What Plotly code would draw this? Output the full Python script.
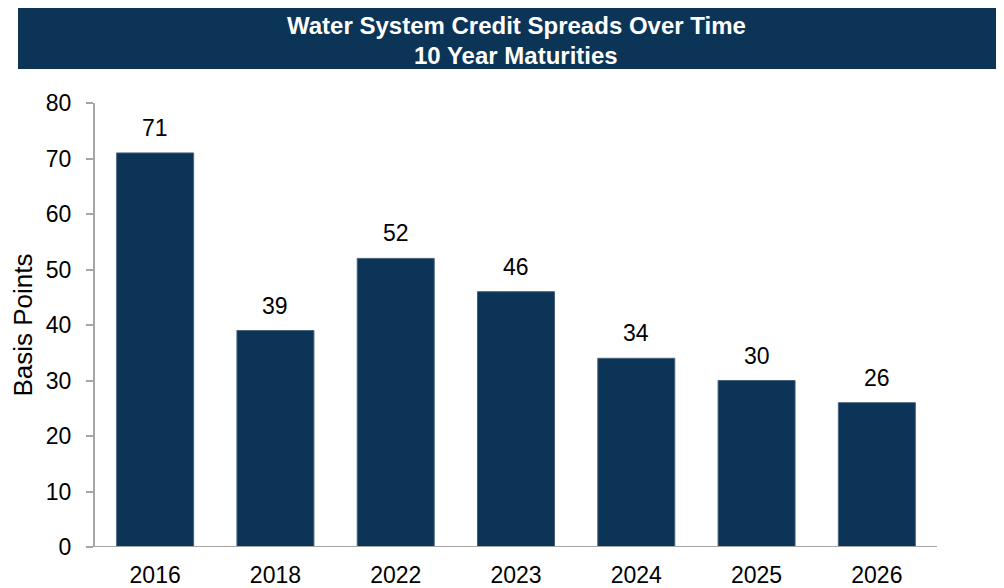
import plotly.graph_objects as go

years = ["2016", "2018", "2022", "2023", "2024", "2025", "2026"]
spreads = [71, 39, 52, 46, 34, 30, 26]
title_line1 = "Water System Credit Spreads Over Time"
title_line2 = "10 Year Maturities"
y_title = "Basis Points"

NAVY = "#0C3457"
GRAY = "#A6A6A6"
FONT = "Liberation Sans, Arial, sans-serif"

fig = go.Figure()
fig.add_trace(go.Bar(
    x=years, y=spreads, width=0.64,
    marker=dict(color=NAVY, line=dict(color="#46617c", width=1)),
    hoverinfo="x+y",
))

# value labels above bars (x given as category index on the category axis)
for i, v in enumerate(spreads):
    fig.add_annotation(x=i, y=v, text=str(v), showarrow=False, yanchor="bottom",
                       yshift=10, font=dict(family=FONT, size=23, color="#000"))

# the page body has an 8px default margin, so the figure is placed at (8, 8)
OFF = 8
W, H = 1004 - OFF, 588 - OFF
L = 95 - OFF
R = W - (937 - OFF)
T = 103 - OFF
B = H - (547 - OFF)
pw = W - L - R
ph = H - T - B

def px_x(x):
    return (x - OFF - L) / pw

def px_y(y):
    return (H - B - (y - OFF)) / ph

# title box
fig.add_shape(type="rect", xref="paper", yref="paper",
              x0=px_x(18), x1=px_x(1010),
              y0=px_y(69), y1=px_y(7),
              fillcolor=NAVY, line=dict(width=0), layer="below")
fig.add_annotation(xref="paper", yref="paper", x=px_x(516), y=px_y(25),
                   text=f"<b>{title_line1}</b>", showarrow=False, xanchor="center", yanchor="middle",
                   font=dict(family=FONT, size=24, color="white"))
fig.add_annotation(xref="paper", yref="paper", x=px_x(516), y=px_y(55),
                   text=f"<b>{title_line2}</b>", showarrow=False, xanchor="center", yanchor="middle",
                   font=dict(family=FONT, size=24, color="white"))

# extended x-axis baseline
fig.add_shape(type="line", xref="paper", yref="y", x0=-7 / pw, x1=1, y0=0, y1=0,
              line=dict(color=GRAY, width=2))

fig.update_layout(
    width=W, height=H,
    margin=dict(l=L, r=R, t=T, b=B, pad=0, autoexpand=False),
    paper_bgcolor="white", plot_bgcolor="white",
    showlegend=False,
    font=dict(family=FONT, size=23, color="#000"),
)
fig.update_xaxes(type="category", categoryorder="array", categoryarray=years,
                 range=[-0.5, len(years) - 0.5], autorange=False,
                 showgrid=False, showline=False, ticks="",
                 tickfont=dict(size=23), ticklabelstandoff=12, zeroline=False)
fig.update_yaxes(range=[0, 80], autorange=False, dtick=10, showgrid=False, zeroline=False,
                 showline=True, linecolor=GRAY, linewidth=2,
                 ticks="outside", ticklen=7, tickcolor=GRAY, tickwidth=2,
                 tickfont=dict(size=23), ticklabelstandoff=10,
                 title=dict(text=y_title, font=dict(size=26), standoff=8))

fig.write_html("out.html")
